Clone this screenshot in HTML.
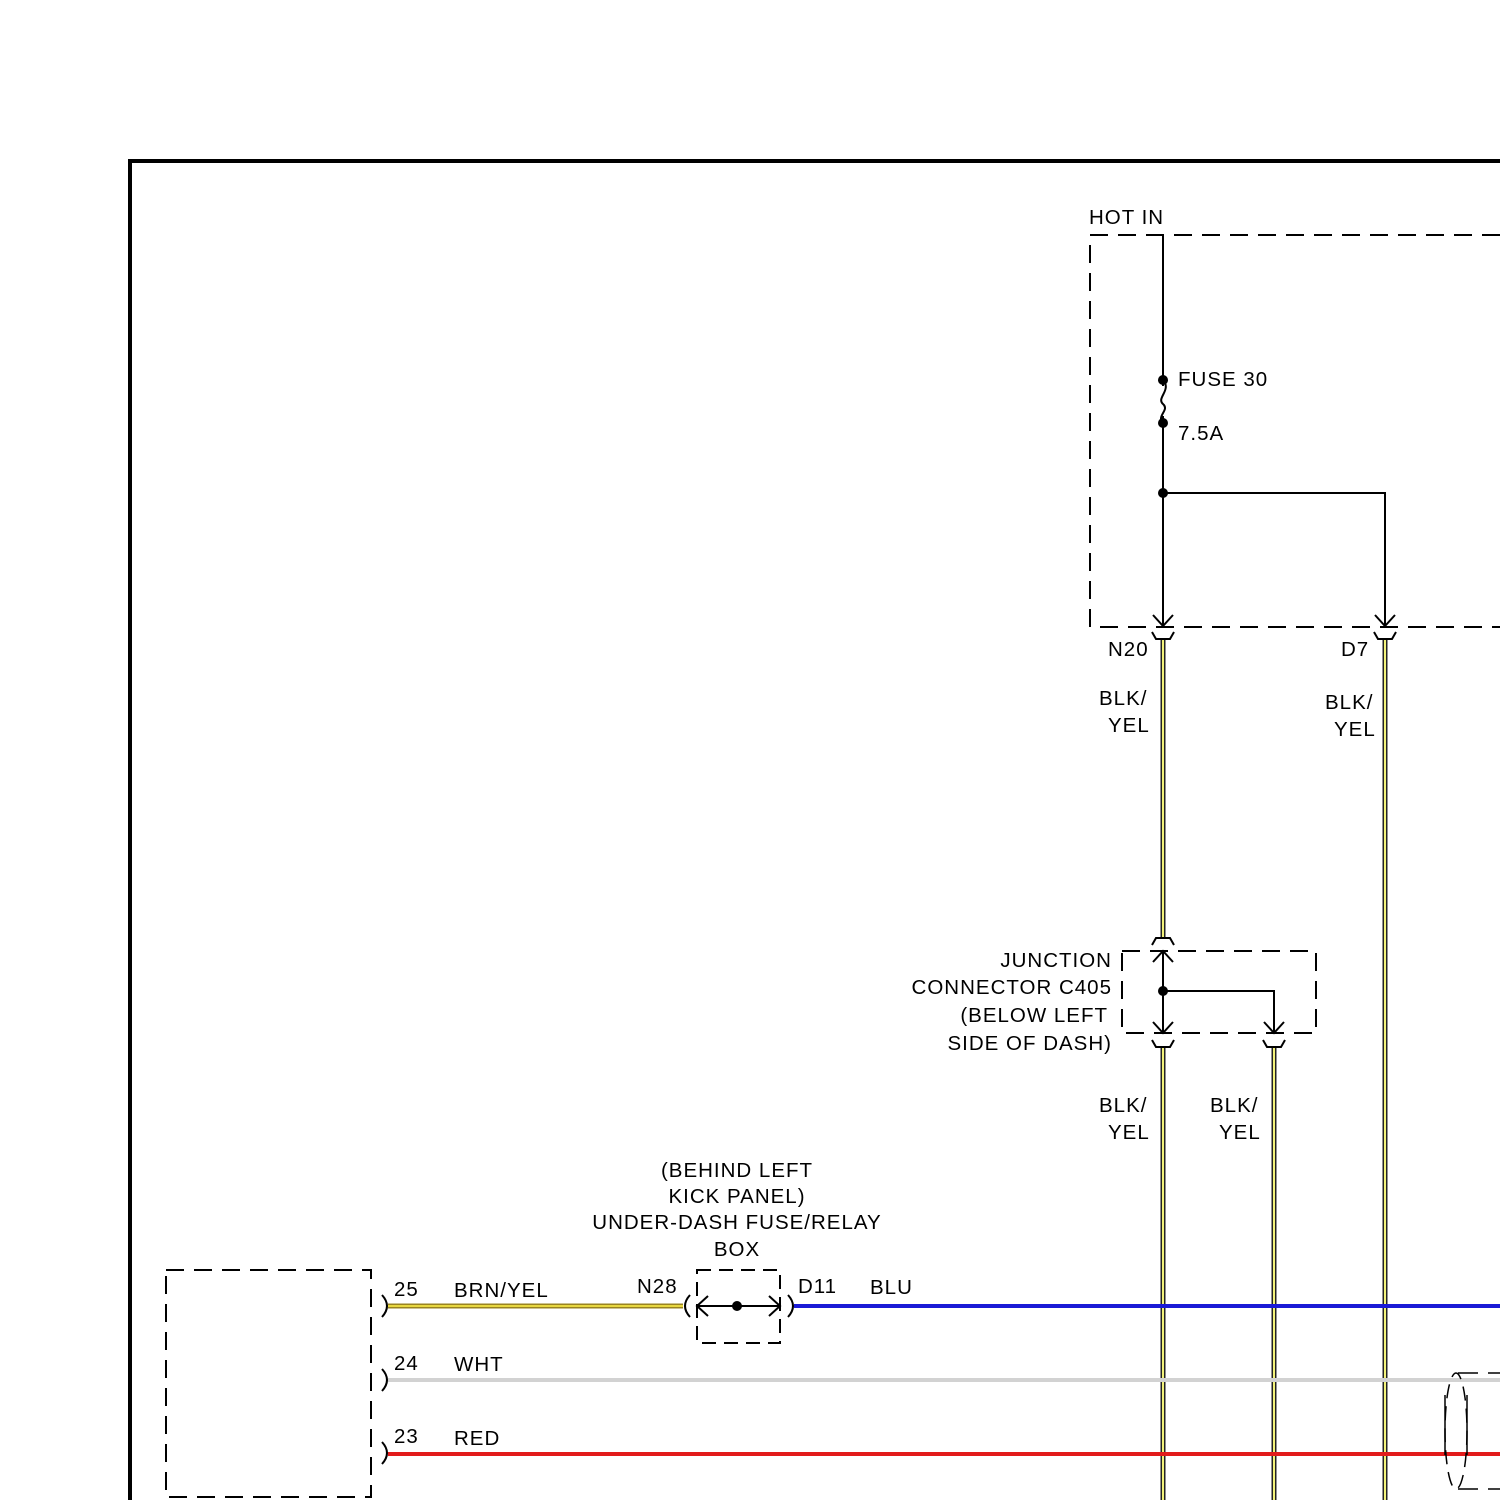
<!DOCTYPE html>
<html><head><meta charset="utf-8"><style>
html,body{margin:0;padding:0;background:#fff;}
svg{display:block;}
text{font-family:"Liberation Sans",sans-serif;font-size:20.5px;letter-spacing:1px;fill:#000;}
</style></head><body>
<svg width="1500" height="1500" viewBox="0 0 1500 1500" xmlns="http://www.w3.org/2000/svg">
<rect width="1500" height="1500" fill="#fff"/>
<path d="M130 1500 V161 H1500" fill="none" stroke="#000" stroke-width="4"/>

<text x="1089" y="224">HOT IN</text>
<path d="M1500 235 H1090 V627 H1500" fill="none" stroke="#000" stroke-width="2" stroke-dasharray="18,10"/>
<line x1="1163" y1="235" x2="1163" y2="626" stroke="#000" stroke-width="2"/>
<rect x="1158" y="386" width="10" height="30" fill="#fff"/>
<path d="M1163 380 C1172 390,1156 398,1163 404 C1170 410,1156 416,1163 423" fill="none" stroke="#000" stroke-width="2"/>
<circle cx="1163" cy="380" r="5"/>
<circle cx="1163" cy="423" r="5"/>
<text x="1178" y="386">FUSE 30</text>
<text x="1178" y="440">7.5A</text>
<circle cx="1163" cy="493" r="5"/>
<path d="M1163 493 H1385 V626" fill="none" stroke="#000" stroke-width="2"/>
<path d="M1153 615 L1163 626 L1173 615 M1375 615 L1385 626 L1395 615" fill="none" stroke="#000" stroke-width="2"/>
<path d="M1152 632 L1156 639 H1170 L1174 632 M1374 632 L1378 639 H1392 L1396 632" fill="none" stroke="#000" stroke-width="2"/>
<text x="1108" y="656">N20</text>
<text x="1341" y="656">D7</text>

<g stroke="#222" stroke-width="5">
<line x1="1163" y1="640" x2="1163" y2="938"/>
<line x1="1385" y1="640" x2="1385" y2="1500"/>
<line x1="1163" y1="1048" x2="1163" y2="1500"/>
<line x1="1274" y1="1048" x2="1274" y2="1500"/>
</g>
<g stroke="#f2f27a" stroke-width="2">
<line x1="1163" y1="640" x2="1163" y2="938"/>
<line x1="1385" y1="640" x2="1385" y2="1500"/>
<line x1="1163" y1="1048" x2="1163" y2="1500"/>
<line x1="1274" y1="1048" x2="1274" y2="1500"/>
</g>
<text x="1099" y="705">BLK/</text><text x="1108" y="732">YEL</text>
<text x="1325" y="709">BLK/</text><text x="1334" y="736">YEL</text>
<text x="1099" y="1112">BLK/</text><text x="1108" y="1139">YEL</text>
<text x="1210" y="1112">BLK/</text><text x="1219" y="1139">YEL</text>

<path d="M1152 945 L1156 938 H1170 L1174 945" fill="none" stroke="#000" stroke-width="2"/>
<path d="M1122 951 H1316 V1033 H1122 Z" fill="none" stroke="#000" stroke-width="2" stroke-dasharray="18,10"/>
<line x1="1163" y1="951" x2="1163" y2="1033" stroke="#000" stroke-width="2"/>
<path d="M1153 962 L1163 951 L1173 962 M1153 1022 L1163 1033 L1173 1022 M1264 1022 L1274 1033 L1284 1022" fill="none" stroke="#000" stroke-width="2"/>
<circle cx="1163" cy="991" r="5"/>
<path d="M1163 991 H1274 V1033" fill="none" stroke="#000" stroke-width="2"/>
<path d="M1152 1040 L1156 1047 H1170 L1174 1040 M1263 1040 L1267 1047 H1281 L1285 1040" fill="none" stroke="#000" stroke-width="2"/>
<g text-anchor="end">
<text x="1112" y="967">JUNCTION</text>
<text x="1112" y="994">CONNECTOR C405</text>
<text x="1108" y="1022">(BELOW LEFT</text>
<text x="1112" y="1050">SIDE OF DASH)</text>
</g>

<g text-anchor="middle">
<text x="737" y="1177">(BEHIND LEFT</text>
<text x="737" y="1203">KICK PANEL)</text>
<text x="737" y="1229">UNDER-DASH FUSE/RELAY</text>
<text x="737" y="1256">BOX</text>
</g>

<path d="M166 1270 H371 V1497 H166 Z" fill="none" stroke="#000" stroke-width="2" stroke-dasharray="18,10"/>
<path d="M382 1295 Q392 1306 382 1317 M382 1369 Q392 1380 382 1391 M382 1442 Q392 1453 382 1464" fill="none" stroke="#000" stroke-width="2"/>

<line x1="388" y1="1306" x2="683" y2="1306" stroke="#9a8420" stroke-width="5"/>
<line x1="388" y1="1306" x2="683" y2="1306" stroke="#e8d840" stroke-width="2"/>
<line x1="388" y1="1380" x2="1500" y2="1380" stroke="#d2d2d2" stroke-width="4"/>
<line x1="388" y1="1454" x2="1500" y2="1454" stroke="#e21b1b" stroke-width="4"/>
<line x1="794" y1="1306" x2="1500" y2="1306" stroke="#1a1ad6" stroke-width="4"/>
<text x="394" y="1296">25</text><text x="454" y="1297">BRN/YEL</text>
<text x="394" y="1370">24</text><text x="454" y="1371">WHT</text>
<text x="394" y="1443">23</text><text x="454" y="1445">RED</text>

<text x="637" y="1293">N28</text>
<text x="798" y="1293">D11</text>
<text x="870" y="1294">BLU</text>
<path d="M690 1295 Q680 1306 690 1317 M788 1295 Q798 1306 788 1317" fill="none" stroke="#000" stroke-width="2"/>
<path d="M697 1270 H780 V1343 H697 Z" fill="none" stroke="#000" stroke-width="2" stroke-dasharray="14,8"/>
<line x1="697" y1="1306" x2="780" y2="1306" stroke="#000" stroke-width="2"/>
<path d="M708 1296 L697 1306 L708 1316 M769 1296 L780 1306 L769 1316" fill="none" stroke="#000" stroke-width="2"/>
<circle cx="737" cy="1306" r="5"/>

<ellipse cx="1456" cy="1431" rx="11" ry="58" fill="none" stroke="#000" stroke-width="1.5" stroke-dasharray="14,8"/>
<line x1="1445" y1="1395" x2="1445" y2="1455" stroke="#000" stroke-width="1.5"/>
<line x1="1467" y1="1395" x2="1467" y2="1455" stroke="#000" stroke-width="1.5"/>
<path d="M1458 1373 H1500 M1458 1489 H1500" stroke="#000" stroke-width="1.5" stroke-dasharray="20,10"/>
</svg>
</body></html>
